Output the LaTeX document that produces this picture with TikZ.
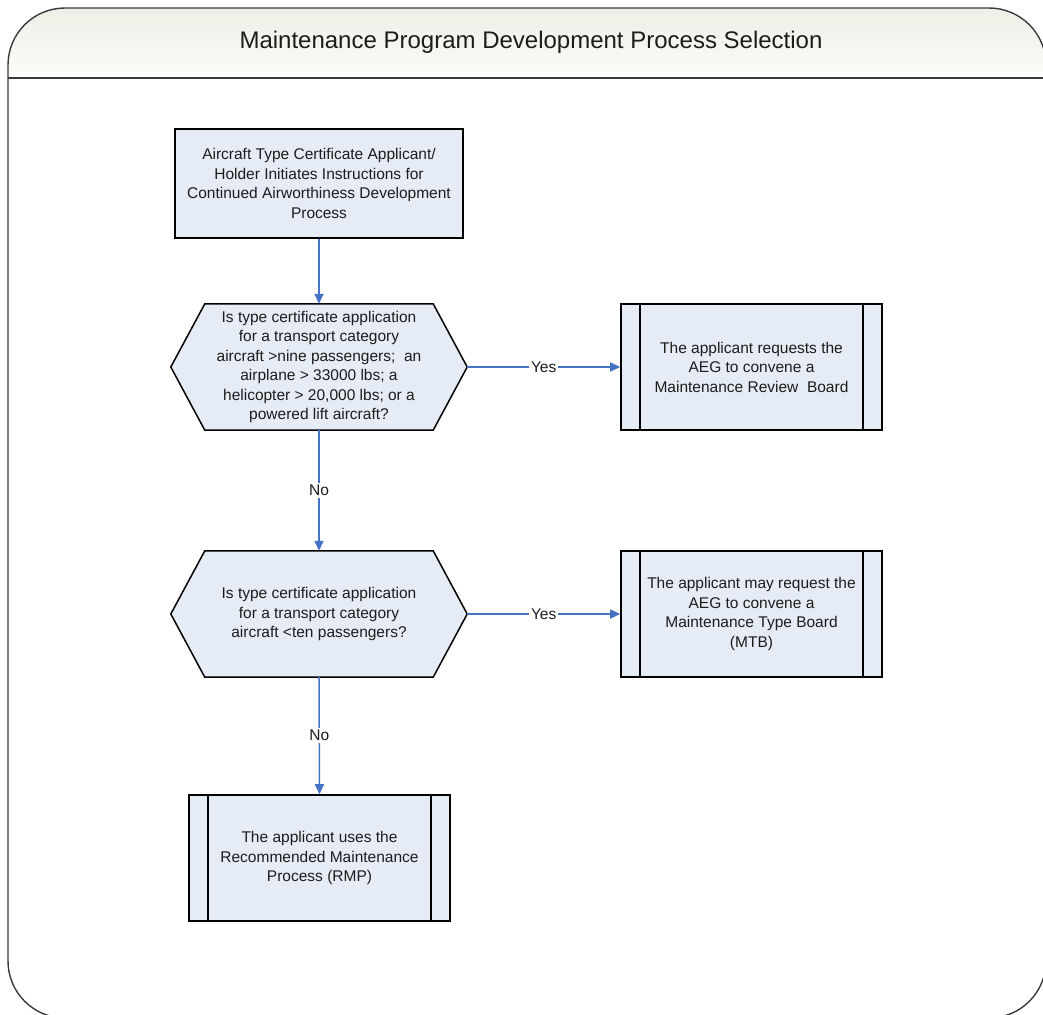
\documentclass[tikz,border=0pt]{standalone}
\usepackage{fontspec}
\setmainfont{Liberation Sans}
\usetikzlibrary{arrows.meta,calc,backgrounds}

\definecolor{boxfill}{HTML}{E6ECF6}
\definecolor{flow}{HTML}{4472C4}
\definecolor{framegray}{HTML}{3A3A3A}
\definecolor{headtop}{HTML}{ECEDE3}
\definecolor{headbot}{HTML}{FCFCFA}
\definecolor{txt}{HTML}{1C1C1C}

\newcommand\flowtext{\fontsize{15.5}{19.5}\selectfont}
\newcommand\titletext{\fontsize{24}{28}\selectfont}

\tikzset{
  procbox/.style={draw=black, line width=1.6pt, fill=boxfill, align=center,
    font=\flowtext, text=txt, inner sep=0pt},
  subproc/.style={procbox,
    path picture={
      \draw[line width=1.6pt]
        ([xshift=19pt]path picture bounding box.north west) --
        ([xshift=19pt]path picture bounding box.south west)
        ([xshift=-19pt]path picture bounding box.north east) --
        ([xshift=-19pt]path picture bounding box.south east);
    }},
  decisiontext/.style={align=center, font=\flowtext, text=txt, inner sep=0pt,
    minimum width=228pt, minimum height=126pt},
  decisionshape/.style={draw=black, line width=1.5pt, fill=boxfill},
  flowarrow/.style={draw=flow, line width=1.5pt,
    -{Triangle[length=10pt,width=9pt]}},
  flowlabel/.style={fill=white, font=\flowtext, text=txt, inner sep=2pt}
}

\begin{document}
\begin{tikzpicture}[x=1pt,y=-1pt]
\useasboundingbox (0,0) rectangle (1043,1014);

% outer frame with shaded title band
\begin{scope}
  \clip[rounded corners=57pt] (8,8) rectangle (1046,1018);
  \shade[top color=headtop, bottom color=headbot] (0,0) rectangle (1050,78);
\end{scope}
\draw[framegray, line width=1.4pt, rounded corners=57pt] (8,8) rectangle (1046,1018);
\draw[framegray, line width=2pt] (8,78) -- (1046,78);
\node[font=\titletext, text=txt] (title) at (531,42)
  {Maintenance Program Development Process Selection};

% process boxes
\node[procbox, minimum width=288pt, minimum height=109pt] (start) at (319,183.5)
  {Aircraft Type Certificate Applicant/\\
   Holder Initiates Instructions for\\
   Continued Airworthiness Development\\
   Process};

\node[subproc, minimum width=261pt, minimum height=126pt] (mrb) at (751.5,367)
  {The applicant requests the\\
   AEG to convene a\\
   Maintenance Review\ \ Board};

\node[subproc, minimum width=261pt, minimum height=126pt] (mtb) at (751.5,614)
  {The applicant may request the\\
   AEG to convene a\\
   Maintenance Type Board\\
   (MTB)};

\node[subproc, minimum width=261pt, minimum height=126pt] (rmp) at (319.5,858)
  {The applicant uses the\\
   Recommended Maintenance\\
   Process (RMP)};

% decisions
\node[decisiontext] (q1) at (319,367)
  {Is type certificate application\\
   for a transport category\\
   aircraft >nine passengers;\ \ an\\
   airplane > 33000 lbs; a\\
   helicopter > 20,000 lbs; or a\\
   powered lift aircraft?};
\coordinate (q1l) at ($(q1.west)+(-34,0)$);
\coordinate (q1r) at ($(q1.east)+(34,0)$);

\node[decisiontext] (q2) at (319,614)
  {Is type certificate application\\
   for a transport category\\
   aircraft <ten passengers?};
\coordinate (q2l) at ($(q2.west)+(-34,0)$);
\coordinate (q2r) at ($(q2.east)+(34,0)$);

\begin{scope}[on background layer]
  \draw[decisionshape] (q1.north west) -- (q1.north east) -- (q1r) --
    (q1.south east) -- (q1.south west) -- (q1l) -- cycle;
  \draw[decisionshape] (q2.north west) -- (q2.north east) -- (q2r) --
    (q2.south east) -- (q2.south west) -- (q2l) -- cycle;
\end{scope}

% connectors
\draw[flowarrow] (start.south) -- (q1.north);
\draw[flowarrow] (q1r) -- node[flowlabel] {Yes} (mrb.west);
\draw[flowarrow] (q1.south) -- node[flowlabel] {No} (q2.north);
\draw[flowarrow] (q2r) -- node[flowlabel] {Yes} (mtb.west);
\draw[flowarrow] (q2.south) -- node[flowlabel] {No} (rmp.north);
\end{tikzpicture}
\end{document}
